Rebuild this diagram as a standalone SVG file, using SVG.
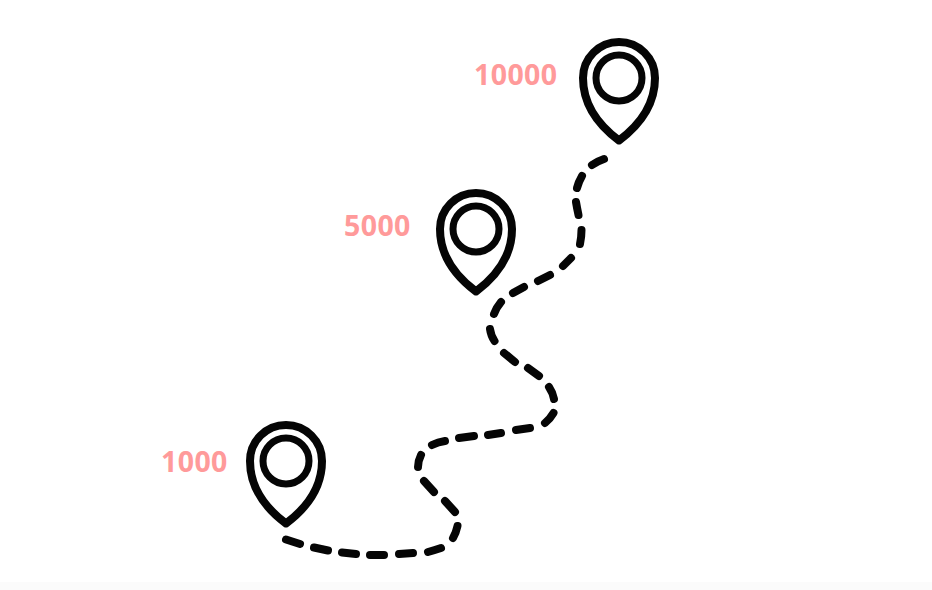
<svg xmlns="http://www.w3.org/2000/svg" width="932" height="590" viewBox="0 0 932 590">
<style>
.pin{fill:none;stroke:#050505;stroke-width:8;stroke-linejoin:round}
.lbl{font-family:"Open Sans","Noto Sans",sans-serif;font-weight:700;font-size:28.5px;letter-spacing:.4px;fill:#ff9a9a}
#route path{fill:none;stroke:#050505;stroke-width:8;stroke-linecap:round}
</style>
<defs>
<g id="pinShape"><path class="pin" d="M0,62.500 C-14,52 -36,31 -36,0 A36,36 0 0 1 36,0 C36,31 14,52 0,62.500 Z"/><circle class="pin" r="23" style="stroke-width:7"/></g>
</defs>
<rect width="932" height="590" fill="#fff"/>
<rect y="582" width="932" height="8" fill="#fbfbfb"/>
<g id="route">
<path d="M592,165Q598,161 604,159"/>
<path d="M582,176Q578.500,182 577,188"/>
<path d="M576,202Q577,208 578.500,215"/>
<path d="M581.500,230Q581.500,237 580,244"/>
<path d="M571,258Q567,262 563,266"/>
<path d="M550,275L538,281"/>
<path d="M524,287L513,293"/>
<path d="M501,302Q496,308 494,314"/>
<path d="M490,329Q491,336 494.500,341"/>
<path d="M504,353L515,362"/>
<path d="M528,368L539,376"/>
<path d="M549,387Q553,393 554,399"/>
<path d="M553.500,413Q550,419 545,423"/>
<path d="M530,428L516,430"/>
<path d="M501,433L488,435"/>
<path d="M474,436L459,438"/>
<path d="M445,441Q438,442 432,445"/>
<path d="M421,455Q418,461 418,467"/>
<path d="M424,481L434,492"/>
<path d="M445,501L455,512"/>
<path d="M457.500,526Q456,533 453,538"/>
<path d="M441,548Q435,550 428,552"/>
<path d="M413,553L399,554"/>
<path d="M384,555L370,555"/>
<path d="M356,554L342,552.500"/>
<path d="M328,550.500L314,547.500"/>
<path d="M300,544L286,539.500"/>
</g>
<g id="pin-10000"><use href="#pinShape" x="619" y="78"/><text class="lbl" x="474" y="85">10000</text></g>
<g id="pin-5000"><use href="#pinShape" x="476" y="229"/><text class="lbl" x="344" y="235.500">5000</text></g>
<g id="pin-1000"><use href="#pinShape" x="286" y="461"/><text class="lbl" x="161" y="472">1000</text></g>
</svg>
